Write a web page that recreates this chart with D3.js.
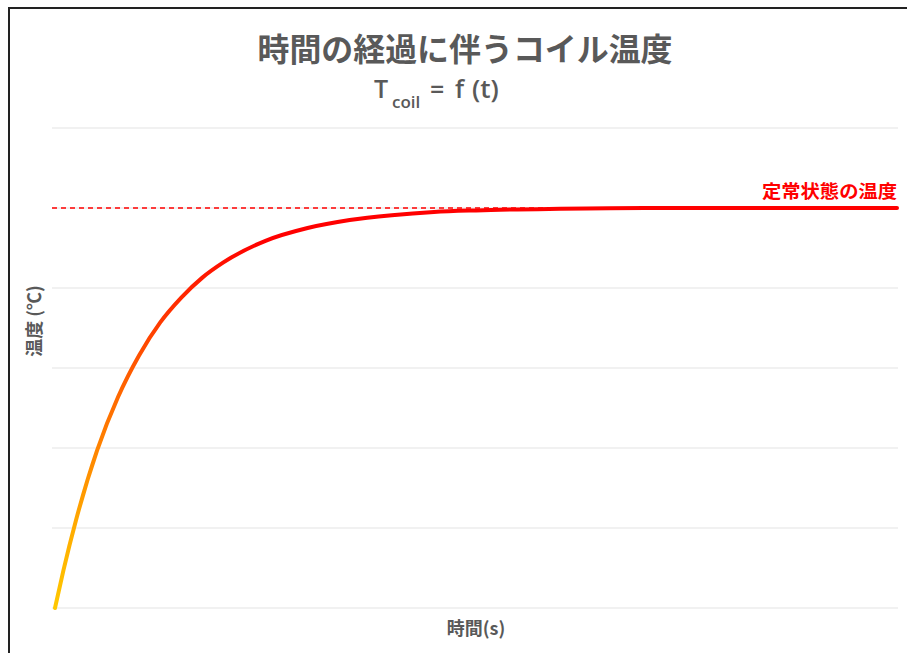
<!DOCTYPE html>
<html>
<head>
<meta charset="utf-8">
<script src="https://cdn.jsdelivr.net/npm/d3@7"></script>
<style>
    body { margin: 0; background: #fff; }
    svg { display: block; }
</style>
</head>
<body>
<svg width="907" height="653"></svg>
<script>
// Values (time and temperature in grid units).
const times = [0, 0.1, 0.25, 0.5, 0.75, 1, 1.25, 1.5, 1.75, 2, 2.5, 3, 3.5, 4, 4.5, 5, 6, 7, 8, 9, 10];
const temps = [0, 0.47, 1.1, 1.97, 2.64, 3.16, 3.57, 3.88, 4.13, 4.32, 4.59, 4.75, 4.85, 4.91, 4.95, 4.97, 4.99, 5.0, 5.0, 5.0, 5.0];
const gridTicks = [0, 1, 2, 3, 4, 5, 6];
const steadyState = 5;

const title = "時間の経過に伴うコイル温度";
const xLabel = "時間(s)";
const yLabel = "温度 (℃)";
const steadyLabel = "定常状態の温度";

document.addEventListener("DOMContentLoaded", () => {

    const svg = d3.select("svg");
    const gray = "#595959";
    const font = "'Noto Sans CJK JP', 'Noto Sans', sans-serif";

    // Frame (top and left edges only are visible).
    svg.append("path")
        .attr("d", "M9,653 V8 H907")
        .attr("fill", "none")
        .attr("stroke", "#222")
        .attr("stroke-width", 2);

    const x = d3.scaleLinear().domain([0, 10]).range([55, 897]);
    const y = d3.scaleLinear().domain([0, 6]).range([608, 128]);

    // Grid lines.
    svg.append("g")
        .selectAll("line")
        .data(gridTicks)
        .enter()
            .append("line")
            .attr("x1", 52)
            .attr("x2", 898)
            .attr("y1", (d) => y(d))
            .attr("y2", (d) => y(d))
            .attr("stroke", "#e3e3e3")
            .attr("stroke-width", 1.2);

    // Steady-state dashed line.
    svg.append("line")
        .attr("x1", 52)
        .attr("x2", 897)
        .attr("y1", y(steadyState))
        .attr("y2", y(steadyState))
        .attr("stroke", "#ff0000")
        .attr("stroke-width", 1.3)
        .attr("stroke-dasharray", "5,4");

    // Gradient for the curve.
    const grad = svg.append("defs").append("linearGradient")
        .attr("id", "heat")
        .attr("gradientUnits", "userSpaceOnUse")
        .attr("x1", 0).attr("y1", y(0))
        .attr("x2", 0).attr("y2", y(4.6));
    grad.append("stop").attr("offset", "0%").attr("stop-color", "#ffc800");
    grad.append("stop").attr("offset", "22%").attr("stop-color", "#ffab00");
    grad.append("stop").attr("offset", "43%").attr("stop-color", "#ff8400");
    grad.append("stop").attr("offset", "65%").attr("stop-color", "#ff5a00");
    grad.append("stop").attr("offset", "87%").attr("stop-color", "#ff2200");
    grad.append("stop").attr("offset", "100%").attr("stop-color", "#ff0000");

    const points = times.map((t, i) => [t, temps[i]]);
    const line = d3.line()
        .x((d) => x(d[0]))
        .y((d) => y(d[1]))
        .curve(d3.curveMonotoneX);

    svg.append("path")
        .datum(points)
        .attr("d", line)
        .attr("fill", "none")
        .attr("stroke", "url(#heat)")
        .attr("stroke-width", 4)
        .attr("stroke-linecap", "round");

    // Steady-state label.
    svg.append("text")
        .attr("x", 897)
        .attr("y", 198)
        .attr("text-anchor", "end")
        .attr("font-family", font)
        .attr("font-weight", "bold")
        .attr("font-size", 18)
        .attr("textLength", 135)
        .attr("lengthAdjust", "spacingAndGlyphs")
        .attr("fill", "#ff0000")
        .text(steadyLabel);

    // Titles.
    svg.append("text")
        .attr("x", 465)
        .attr("y", 61)
        .attr("text-anchor", "middle")
        .attr("font-family", font)
        .attr("font-weight", "bold")
        .attr("font-size", 32)
        .attr("textLength", 415)
        .attr("lengthAdjust", "spacingAndGlyphs")
        .attr("fill", gray)
        .text(title);

    const sub = svg.append("text")
        .attr("y", 98)
        .attr("font-family", "'Open Sans', sans-serif")
        .attr("font-weight", 600)
        .attr("font-size", 25)
        .attr("fill", gray);
    sub.append("tspan").attr("x", 374).text("T");
    sub.append("tspan").attr("x", 392).attr("y", 108).attr("font-size", 17).text("coil");
    sub.append("tspan").attr("x", 430).attr("y", 98).text("=");
    sub.append("tspan").attr("x", 455).text("f");
    sub.append("tspan").attr("x", 472).attr("font-size", 26).text("(t)");

    // Axis labels.
    svg.append("text")
        .attr("x", 476)
        .attr("y", 635)
        .attr("text-anchor", "middle")
        .attr("font-family", font)
        .attr("font-weight", "bold")
        .attr("font-size", 18)
        .attr("fill", gray)
        .text(xLabel);

    svg.append("text")
        .attr("transform", "translate(41,321) rotate(-90)")
        .attr("text-anchor", "middle")
        .attr("font-family", font)
        .attr("font-weight", "bold")
        .attr("font-size", 18)
        .attr("fill", gray)
        .text(yLabel);
});
</script>
</body>
</html>
